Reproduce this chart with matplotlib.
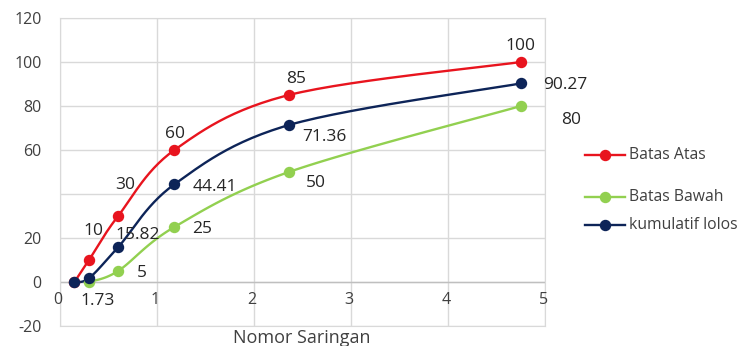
import numpy as np
import matplotlib
matplotlib.use('Agg')
import matplotlib.pyplot as plt
from matplotlib.lines import Line2D

plt.rcParams['font.family'] = ['Open Sans', 'DejaVu Sans']

# data
x_atas = [0.15, 0.3, 0.6, 1.18, 2.36, 4.75]
y_atas = [0, 10, 30, 60, 85, 100]
x_bawah = [0.3, 0.6, 1.18, 2.36, 4.75]
y_bawah = [0, 5, 25, 50, 80]
x_lolos = [0.15, 0.3, 0.6, 1.18, 2.36, 4.75]
y_lolos = [0, 1.73, 15.82, 44.41, 71.36, 90.27]

c_atas = '#e8141e'
c_bawah = '#92d050'
c_lolos = '#0d2458'


def smooth(xs, ys, n=30):
    # Catmull-Rom style smoothing like Excel's "smoothed line"
    xs = np.asarray(xs, float)
    ys = np.asarray(ys, float)
    px = np.concatenate([[xs[0]], xs, [xs[-1]]])
    py = np.concatenate([[ys[0]], ys, [ys[-1]]])
    out_x, out_y = [], []
    for i in range(1, len(px) - 2):
        p0, p1, p2, p3 = [np.array([px[j], py[j]]) for j in (i - 1, i, i + 1, i + 2)]
        c1 = p1 + (p2 - p0) / 6
        c2 = p2 - (p3 - p1) / 6
        t = np.linspace(0, 1, n)[:, None]
        b = (1 - t) ** 3 * p1 + 3 * (1 - t) ** 2 * t * c1 + 3 * (1 - t) * t ** 2 * c2 + t ** 3 * p2
        out_x.extend(b[:, 0])
        out_y.extend(b[:, 1])
    return out_x, out_y


fig = plt.figure(figsize=(7.49, 3.46), dpi=100)
ax = fig.add_axes([0.080, 0.058, 0.648, 0.890])

for xs, ys, c in [(x_bawah, y_bawah, c_bawah), (x_atas, y_atas, c_atas), (x_lolos, y_lolos, c_lolos)]:
    sx, sy = smooth(xs, ys)
    ax.plot(sx, sy, color=c, lw=1.7, zorder=3)
    ax.plot(xs, ys, 'o', color=c, ms=7.2, zorder=4)

ax.set_xlim(0, 5)
ax.set_ylim(-20, 120)
ax.set_yticks(range(-20, 121, 20))
ax.set_yticklabels(['-20', '0', '20', '', '60', '80', '100', '120'])
ax.set_xticks(range(0, 6))
ax.set_xticklabels([])
ax.tick_params(length=0, labelsize=11.5, colors='#404040')
ax.tick_params(axis='y', pad=13)
for i in range(0, 6):
    ax.text(i - 0.02, -8, str(i), fontsize=11.5, color='#404040', ha='center', va='center')
ax.grid(True, color='#d9d9d9', lw=1)
for s in ax.spines.values():
    s.set_color('#d9d9d9')
ax.axhline(0, color='#bfbfbf', lw=1, zorder=1)
ax.set_axisbelow(True)
fig.text(0.403, 0.048, 'Nomor Saringan', fontsize=13, color='#404040', ha='center', va='top')

fs = 12.5
tc = '#262626'
# offsets in pixels from each point (dx, dy), dy up
off_atas = [None, (4, 29), (7, 31), (1, 16), (7, 16), (-1, 16)]
off_lolos = [None, (9, -23), (20, 12), (40, -3), (35, -12), (44, -2)]
off_bawah = [None, (24, -2), (28, -2), (27, -11), (50, -14)]
for xs, ys, offs in [(x_atas, y_atas, off_atas), (x_lolos, y_lolos, off_lolos), (x_bawah, y_bawah, off_bawah)]:
    for xv, yv, o in zip(xs, ys, offs):
        if o is None:
            continue
        ax.annotate(f'{yv:g}', (xv, yv), xytext=o, textcoords='offset pixels',
                    fontsize=fs, color=tc, ha='center', va='center', zorder=5)

# legend drawn by hand
leg = [('Batas Atas', c_atas, 0.552), ('Batas Bawah', c_bawah, 0.431), ('kumulatif lolos', c_lolos, 0.350)]
for name, c, yy in leg:
    fig.add_artist(Line2D([0.781, 0.835], [yy, yy], color=c, lw=1.7, transform=fig.transFigure))
    fig.add_artist(Line2D([0.808], [yy], marker='o', color=c, ms=7.2, transform=fig.transFigure))
    fig.text(0.840, yy, name, fontsize=11.3, color='#404040', va='center')

fig.savefig('out.png', dpi=100)
